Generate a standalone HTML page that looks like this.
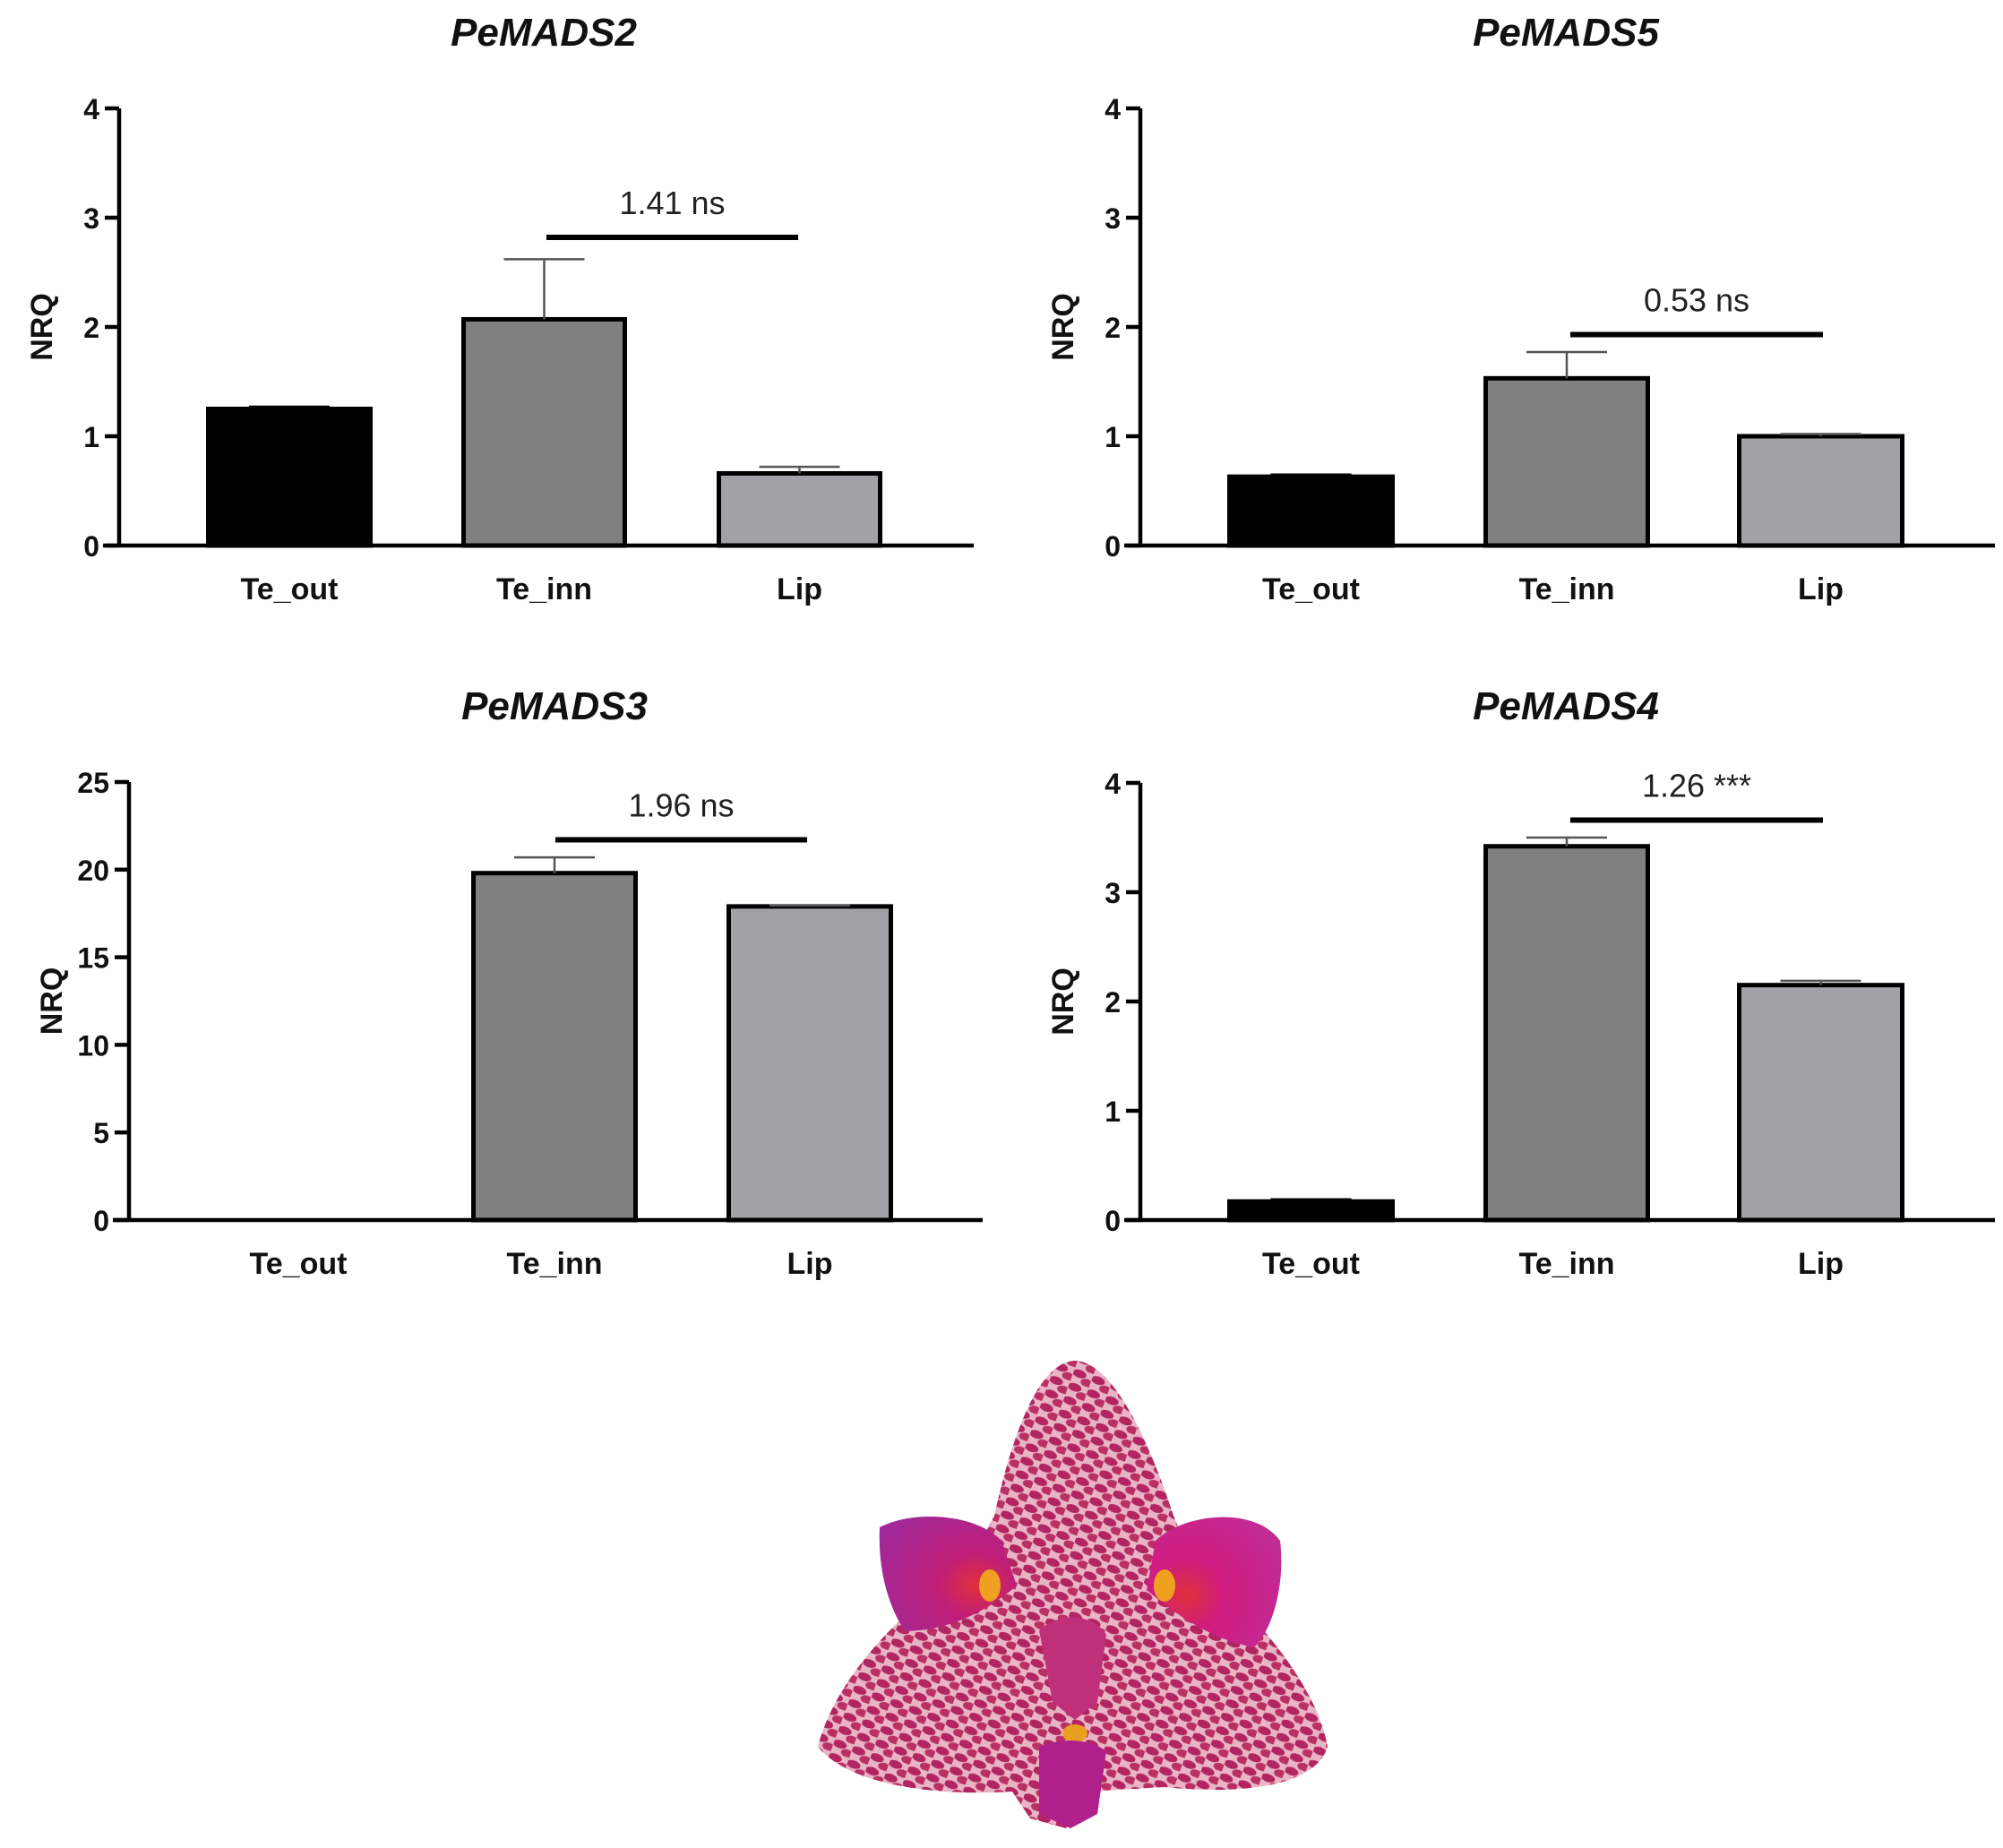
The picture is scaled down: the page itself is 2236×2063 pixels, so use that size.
<!DOCTYPE html>
<html><head><meta charset="utf-8">
<style>
html,body{margin:0;padding:0;background:#fff;}
svg{display:block;font-family:"Liberation Sans",Arial,sans-serif;}
</style></head>
<body>
<svg id="fig" width="2236" height="2063" viewBox="0 0 2236 2063" xmlns="http://www.w3.org/2000/svg">
<defs>
<pattern id="spots" width="22" height="16" patternUnits="userSpaceOnUse" patternTransform="rotate(20)">
<rect width="22" height="16" fill="#e8b4c6"/>
<ellipse cx="7" cy="5" rx="8" ry="4.5" fill="#b22560"/>
<ellipse cx="18" cy="12" rx="7" ry="4.5" fill="#bb3064"/>
</pattern>
<radialGradient id="petalL" cx="0.7" cy="0.6" r="0.8"><stop offset="0" stop-color="#e0303a"/><stop offset="0.35" stop-color="#c01e78"/><stop offset="1" stop-color="#a0289a"/></radialGradient>
<radialGradient id="petalR" cx="0.3" cy="0.6" r="0.8"><stop offset="0" stop-color="#e0303a"/><stop offset="0.35" stop-color="#d01c80"/><stop offset="1" stop-color="#c02c96"/></radialGradient>
</defs>
<g id="charts"></g>
<g id="flower">
<path d="M1200 1519 C1240 1520 1280 1600 1310 1692 L1330 1740 C1400 1800 1470 1880 1482 1950 C1470 1990 1400 2005 1300 1995 L1215 2000 L1190 2041 L1150 2030 L1130 2000 C1050 2005 950 1995 913 1950 C930 1880 1000 1800 1080 1750 L1110 1692 C1130 1600 1160 1520 1200 1519 Z" fill="url(#spots)"/>
<path d="M982 1705 C1020 1685 1090 1690 1118 1720 L1135 1770 C1100 1800 1060 1820 1010 1821 C990 1790 980 1750 982 1705 Z" fill="url(#petalL)"/>
<path d="M1290 1720 C1320 1690 1400 1680 1429 1720 C1435 1770 1420 1820 1400 1839 C1350 1830 1310 1800 1280 1775 Z" fill="url(#petalR)"/>
<path d="M1160 1820 C1180 1800 1220 1800 1235 1825 L1225 1900 L1200 1920 L1175 1900 Z" fill="#c0307a"/>
<ellipse cx="1200" cy="1935" rx="14" ry="10" fill="#e8a020"/>
<path d="M1160 1950 C1185 1940 1215 1940 1235 1955 L1225 2025 L1195 2041 L1160 2025 Z" fill="#b0208a"/>
<ellipse cx="1105" cy="1770" rx="12" ry="18" fill="#f0a020"/>
<ellipse cx="1300" cy="1770" rx="12" ry="18" fill="#f0a020"/>
</g>
</svg>
<script>
// ---- data ----
const categories = ["Te_out","Te_inn","Lip"];
const titles = ["PeMADS2","PeMADS5","PeMADS3","PeMADS4"];
const values2 = [1.25, 2.07, 0.66];
const errors2 = [1.27, 2.62, 0.72];
const values5 = [0.63, 1.53, 1.00];
const errors5 = [0.65, 1.77, 1.02];
const values3 = [0, 19.8, 17.9];
const errors3 = [0, 20.7, 17.95];
const values4 = [0.17, 3.42, 2.15];
const errors4 = [0.19, 3.50, 2.19];
const ticks4 = [0,1,2,3,4];
const ticks25 = [0,5,10,15,20,25];
const sigLabels = ["1.41 ns","0.53 ns","1.96 ns","1.26 ***"];
const sigLevels2 = [2.82];
const sigLevels5 = [1.93];
const sigLevels3 = [21.7];
const sigLevels4 = [3.66];
const fills = ["#000000","#808080","#a2a2a6"];

const NS="http://www.w3.org/2000/svg";
const root=document.getElementById('charts');
function mk(tag,attrs,parent,text){const e=document.createElementNS(NS,tag);for(const k in attrs)e.setAttribute(k,attrs[k]);if(text!==undefined)e.textContent=text;parent.appendChild(e);return e;}

const layouts=[
 {ax:133,xe:1087,y0:609,yt:121,bars:[[230,416],[515,700],[800,985]],title:[607,36],ticks:ticks4,vals:values2,errs:errors2,sig:sigLevels2[0],sigx:[610,891]},
 {ax:1273,xe:2227,y0:609,yt:121,bars:[[1370,1557],[1656,1842],[1939,2126]],title:[1748,36],ticks:ticks4,vals:values5,errs:errors5,sig:sigLevels5[0],sigx:[1753,2035]},
 {ax:144,xe:1097,y0:1362,yt:873,bars:[[240,426],[526,712],[811,997]],title:[619,788],ticks:ticks25,vals:values3,errs:errors3,sig:sigLevels3[0],sigx:[620,901]},
 {ax:1273,xe:2227,y0:1362,yt:874,bars:[[1370,1557],[1656,1842],[1939,2126]],title:[1748,788],ticks:ticks4,vals:values4,errs:errors4,sig:sigLevels4[0],sigx:[1753,2035]}
];

layouts.forEach((L,ci)=>{
 const g=mk('g',{},root);
 
 
 const tmax=L.ticks[L.ticks.length-1];
 const y=v=>L.y0-(v/tmax)*(L.y0-L.yt);
 const t=mk('text',{x:L.title[0],y:L.title[1]+15,'text-anchor':'middle','font-size':44,'font-weight':'bold','font-style':'italic',fill:'#111'},g,titles[ci]);
 
 
 const yl=mk('text',{x:0,y:0,transform:`translate(${L.ax-75},${(L.y0+L.yt)/2}) rotate(-90)`,'text-anchor':'middle','font-size':34,'font-weight':'bold',fill:'#111'},g,'NRQ');
 
 
 L.vals.forEach((v,i)=>{
  const [x1,x2]=L.bars[i];const cx=(x1+x2)/2;
  if(v>0){
   const r=mk('rect',{x:x1+2.5,y:y(v),width:x2-x1-5,height:L.y0-y(v),fill:fills[i],stroke:'#000','stroke-width':5},g);
   
   
   const e=mk('path',{d:`M${cx} ${y(v)} V${y(L.errs[i])} M${cx-45} ${y(L.errs[i])} H${cx+45}`,stroke:i==0?'#000':'#555','stroke-width':2.5,fill:'none'},g);
   
   
  }
  const cl=mk('text',{x:cx,y:L.y0+60,'text-anchor':'middle','font-size':34,'font-weight':'bold',fill:'#111'},g,categories[i]);
  
  
 });
 const ax=mk('path',{d:`M${L.ax} ${L.yt} V${L.y0} M${L.ax-18} ${L.y0} H${L.xe}`,stroke:'#000','stroke-width':4.5,fill:'none'},g);
 
 
 L.ticks.forEach(tv=>{
  mk('path',{d:`M${L.ax-16} ${y(tv)} H${L.ax}`,stroke:'#000','stroke-width':4.5},g);
  const tl=mk('text',{x:L.ax-22,y:y(tv)+12,'text-anchor':'end','font-size':32,'font-weight':'bold',fill:'#111'},g,String(tv));
  
  
 });
 const s=mk('path',{d:`M${L.sigx[0]} ${y(L.sig)} H${L.sigx[1]}`,stroke:'#000','stroke-width':6},g);
 
 
 const st=mk('text',{x:(L.sigx[0]+L.sigx[1])/2,y:y(L.sig)-26,'text-anchor':'middle','font-size':36,fill:'#222'},g,sigLabels[ci]);
 
 
});
</script>
</body></html>
